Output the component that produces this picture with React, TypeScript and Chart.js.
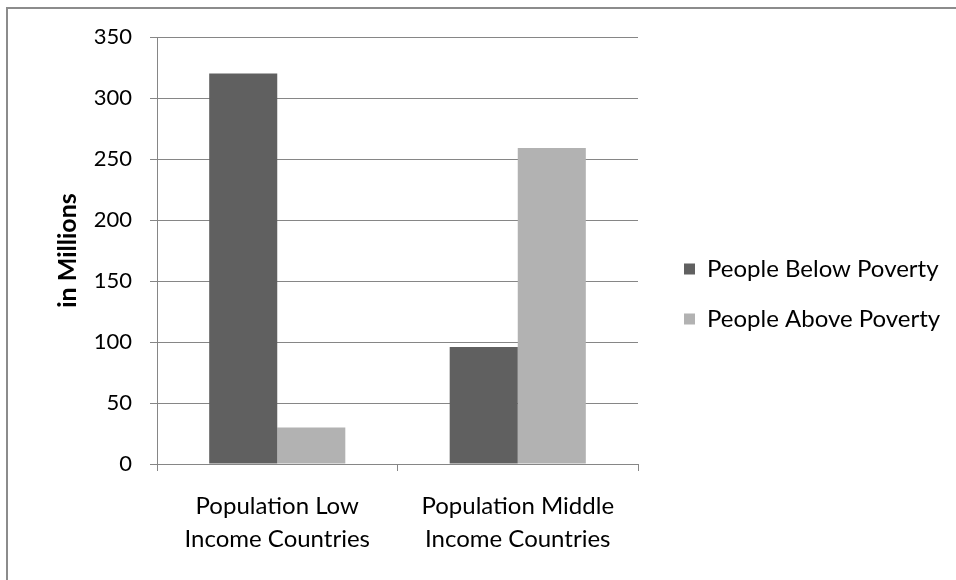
import React, { useEffect, useRef } from "react";
import { Chart, registerables } from "chart.js";

Chart.register(...registerables);

const categories: string[][] = [
  ["Population Low", "Income Countries"],
  ["Population Middle", "Income Countries"],
];
const seriesNames = ["People Below Poverty", "People Above Poverty"];
const belowPoverty = [320, 96];
const abovePoverty = [30, 259];
const yMin = 0;
const yMax = 350;
const yStep = 50;
const yTitle = "in Millions";

const W = 956;
const H = 580;
const FONT = "Lato";
const TICK_FS = 22;
const XLAB_FS = 24;
const LEG_FS = 24;
const TITLE_FS = 25;
const GRID = "#868686";

const framePlugin = {
  id: "frame",
  afterDraw(chart: any) {
    const ctx = chart.ctx;
    ctx.save();
    ctx.fillStyle = "#8c8c8c";
    ctx.fillRect(6, 7, W, 2);
    ctx.fillRect(6, 7, 2, H);
    ctx.restore();
  },
};

export default function App() {
  const ref = useRef<HTMLCanvasElement | null>(null);

  useEffect(() => {
    const canvas = ref.current;
    if (!canvas) return;
    const m = document.createElement("canvas").getContext("2d")!;
    m.font = `${LEG_FS}px ${FONT}`;
    const tw = Math.max(...seriesNames.map((s) => m.measureText(s).width));
    const legendPad = 26;
    const boxW = 11;
    const legendLeft = 658;
    const legendWidth = legendPad + boxW + LEG_FS / 2 + tw + 10;
    const padRight = Math.max(0, W - legendLeft - legendWidth);

    const chart = new Chart(canvas, {
      type: "bar",
      data: {
        labels: categories,
        datasets: [
          {
            label: seriesNames[0],
            data: belowPoverty,
            backgroundColor: "#606060",
            borderWidth: 0,
          },
          {
            label: seriesNames[1],
            data: abovePoverty,
            backgroundColor: "#b2b2b2",
            borderWidth: 0,
          },
        ],
      },
      options: {
        animation: false,
        responsive: false,
        maintainAspectRatio: false,
        layout: { padding: { top: 37, left: 0, right: padRight, bottom: 29 } },
        datasets: {
          bar: { barPercentage: 1, categoryPercentage: 0.566 },
        },
        plugins: {
          tooltip: { enabled: false },
          legend: {
            position: "right",
            align: "center",
            maxWidth: 600,
            labels: {
              boxWidth: boxW,
              boxHeight: boxW,
              padding: legendPad,
              color: "#000",
              font: { family: FONT, size: LEG_FS },
            },
          },
        },
        scales: {
          x: {
            type: "category",
            offset: true,
            grid: {
              offset: true,
              drawOnChartArea: false,
              drawTicks: true,
              tickLength: 7,
              color: GRID,
              lineWidth: 1,
            },
            border: { display: true, color: GRID, width: 1 },
            ticks: {
              color: "#000",
              padding: 19,
              maxRotation: 0,
              autoSkip: false,
              font: { family: FONT, size: XLAB_FS, lineHeight: 1.375 },
            },
            afterFit(s: any) {
              s.height = 87;
            },
          },
          y: {
            min: yMin,
            max: yMax,
            grid: {
              color: GRID,
              lineWidth: 1,
              drawTicks: true,
              tickLength: 7,
            },
            border: { display: true, color: GRID, width: 1 },
            ticks: {
              stepSize: yStep,
              color: "#000",
              padding: 18,
              font: { family: FONT, size: TICK_FS },
            },
            title: {
              display: true,
              text: yTitle,
              color: "#000",
              font: { family: FONT, size: TITLE_FS, weight: "bold", lineHeight: 1.2 },
              padding: { top: 53, bottom: 0 },
            },
            afterFit(s: any) {
              s.width = 157;
            },
          },
          gap: {
            position: "right",
            display: true,
            grid: { display: false },
            border: { display: false },
            ticks: { display: false },
            afterFit(s: any) {
              s.width = 20;
            },
          },
        },
      },
      plugins: [framePlugin],
    } as any);

    return () => chart.destroy();
  }, []);

  return (
    <div
      style={{
        position: "fixed",
        left: 0,
        top: 0,
        width: W,
        height: H,
        background: "#fff",
      }}
    >
      <canvas ref={ref} width={W} height={H} style={{ display: "block" }} />
    </div>
  );
}
